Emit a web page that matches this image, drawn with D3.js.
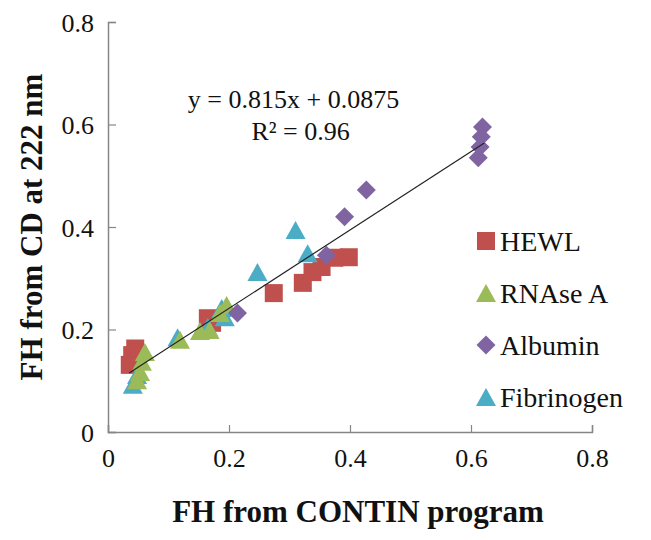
<!DOCTYPE html>
<html>
<head>
<meta charset="utf-8">
<script src="https://cdn.jsdelivr.net/npm/d3@7"></script>
<style>
  html, body { margin: 0; padding: 0; background: #fff; }
  svg { display: block; }
</style>
</head>
<body>
<svg id="chart" width="651" height="540"></svg>
<script>
// ---- data ----
const seriesNames = ["HEWL", "RNAse A", "Albumin", "Fibrinogen"];
const hewlX = [0.045, 0.036, 0.040, 0.172, 0.165, 0.274, 0.322, 0.338, 0.353, 0.374, 0.398];
const hewlY = [0.163, 0.131, 0.150, 0.213, 0.222, 0.271, 0.291, 0.312, 0.322, 0.340, 0.341];
const rnaseX = [0.048, 0.053, 0.056, 0.061, 0.119, 0.152, 0.168, 0.185, 0.196];
const rnaseY = [0.101, 0.117, 0.137, 0.156, 0.180, 0.197, 0.199, 0.232, 0.248];
const albuminX = [0.214, 0.361, 0.391, 0.427, 0.612, 0.615, 0.617, 0.619];
const albuminY = [0.232, 0.345, 0.420, 0.472, 0.535, 0.556, 0.576, 0.595];
const fibX = [0.041, 0.048, 0.115, 0.165, 0.193, 0.188, 0.247, 0.310, 0.330];
const fibY = [0.092, 0.111, 0.185, 0.205, 0.224, 0.242, 0.312, 0.394, 0.349];
const trendX = [0.035, 0.622];
const trendY = [0.115, 0.564];
const xTicks = [0, 0.2, 0.4, 0.6, 0.8];
const yTicks = [0, 0.2, 0.4, 0.6, 0.8];
const equationText = "y = 0.815x + 0.0875";
const r2Text = "R² = 0.96";
const xTitle = "FH from CONTIN program";
const yTitle = "FH from CD at 222 nm";

// ---- layout ----
const W = 651, H = 540;
const m = { left: 108, top: 22, right: 59, bottom: 108 };
const svg = d3.select("#chart");
const x = d3.scaleLinear().domain([0, 0.8]).range([m.left, W - m.right]);
const y = d3.scaleLinear().domain([0, 0.8]).range([H - m.bottom, m.top]);
const font = "'Liberation Serif', 'Times New Roman', serif";
const axisColor = "#868686";

const colors = { "HEWL": "#C0504D", "RNAse A": "#9BBB59", "Albumin": "#8064A2", "Fibrinogen": "#4BACC6" };
const shapes = { "HEWL": "square", "RNAse A": "triangle", "Albumin": "diamond", "Fibrinogen": "triangle" };

function markerPath(shape, cx, cy) {
  const p = d3.path();
  if (shape === "square") {
    const s = 9;
    p.rect(cx - s, cy - s, 2 * s, 2 * s);
  } else if (shape === "diamond") {
    const s = 9.5;
    p.moveTo(cx, cy - s); p.lineTo(cx + s, cy); p.lineTo(cx, cy + s); p.lineTo(cx - s, cy); p.closePath();
  } else {
    const w = 10, h = 9;
    p.moveTo(cx, cy - h); p.lineTo(cx + w, cy + h); p.lineTo(cx - w, cy + h); p.closePath();
  }
  return p.toString();
}

// ---- axes ----
const xAxis = d3.axisBottom(x).tickValues(xTicks).tickSize(-7).tickPadding(12)
  .tickFormat(d => d === 0 ? "0" : d3.format(".1f")(d));
const yAxis = d3.axisLeft(y).tickValues(yTicks).tickSize(-8).tickPadding(14)
  .tickFormat(d => d === 0 ? "0" : d3.format(".1f")(d));

const gx = svg.append("g").attr("transform", `translate(0,${H - m.bottom})`).call(xAxis);
const gy = svg.append("g").attr("transform", `translate(${m.left},0)`).call(yAxis);
[gx, gy].forEach(g => {
  g.attr("font-family", font);
  g.select(".domain").attr("stroke", axisColor).attr("stroke-width", 1.5);
  g.selectAll(".tick line").attr("stroke", axisColor).attr("stroke-width", 1.2);
  g.selectAll(".tick text").attr("fill", "#111").style("font-family", font).style("font-size", "26px");
});
gx.selectAll(".tick text").attr("dy", "0.9em");
gy.selectAll(".tick text").attr("dy", "0.35em");

// ---- points ----
const seriesData = [
  { name: "HEWL", xs: hewlX, ys: hewlY },
  { name: "Fibrinogen", xs: fibX, ys: fibY },
  { name: "RNAse A", xs: rnaseX, ys: rnaseY },
  { name: "Albumin", xs: albuminX, ys: albuminY }
];
seriesData.forEach(s => {
  const pts = s.xs.map((v, i) => [v, s.ys[i]]);
  svg.append("g").selectAll("path").data(pts).enter().append("path")
    .attr("d", d => markerPath(shapes[s.name], x(d[0]), y(d[1])))
    .attr("fill", colors[s.name]);
});

// ---- trend line ----
const line = d3.line().x(d => x(d[0])).y(d => y(d[1]));
svg.append("path").datum(trendX.map((v, i) => [v, trendY[i]]))
  .attr("d", line).attr("stroke", "#222").attr("stroke-width", 1.2).attr("fill", "none");

// ---- equation ----
svg.append("text").attr("x", x(0.132)).attr("y", y(0.633)).text(equationText)
  .style("font-family", font).style("font-size", "26px").attr("fill", "#111");
svg.append("text").attr("x", x(0.237)).attr("y", y(0.570)).text(r2Text)
  .style("font-family", font).style("font-size", "26px").attr("fill", "#111");

// ---- legend ----
const legend = svg.append("g");
seriesNames.forEach((name, i) => {
  const cy = 241 + i * 52;
  legend.append("path").attr("d", markerPath(shapes[name], 486, cy)).attr("fill", colors[name]);
  legend.append("text").attr("x", 500).attr("y", cy).attr("dy", "0.35em").text(name)
    .style("font-family", font).style("font-size", "28px").attr("fill", "#111");
});

// ---- titles ----
svg.append("text").attr("x", (m.left + W - m.right) / 2 + 8).attr("y", 522).attr("text-anchor", "middle")
  .text(xTitle).style("font-family", font).style("font-size", "31px").style("font-weight", "bold").attr("fill", "#111");
svg.append("text").attr("transform", `translate(42,${(m.top + H - m.bottom) / 2}) rotate(-90)`)
  .attr("text-anchor", "middle").text(yTitle)
  .style("font-family", font).style("font-size", "31px").style("font-weight", "bold").attr("fill", "#111");
</script>
</body>
</html>
